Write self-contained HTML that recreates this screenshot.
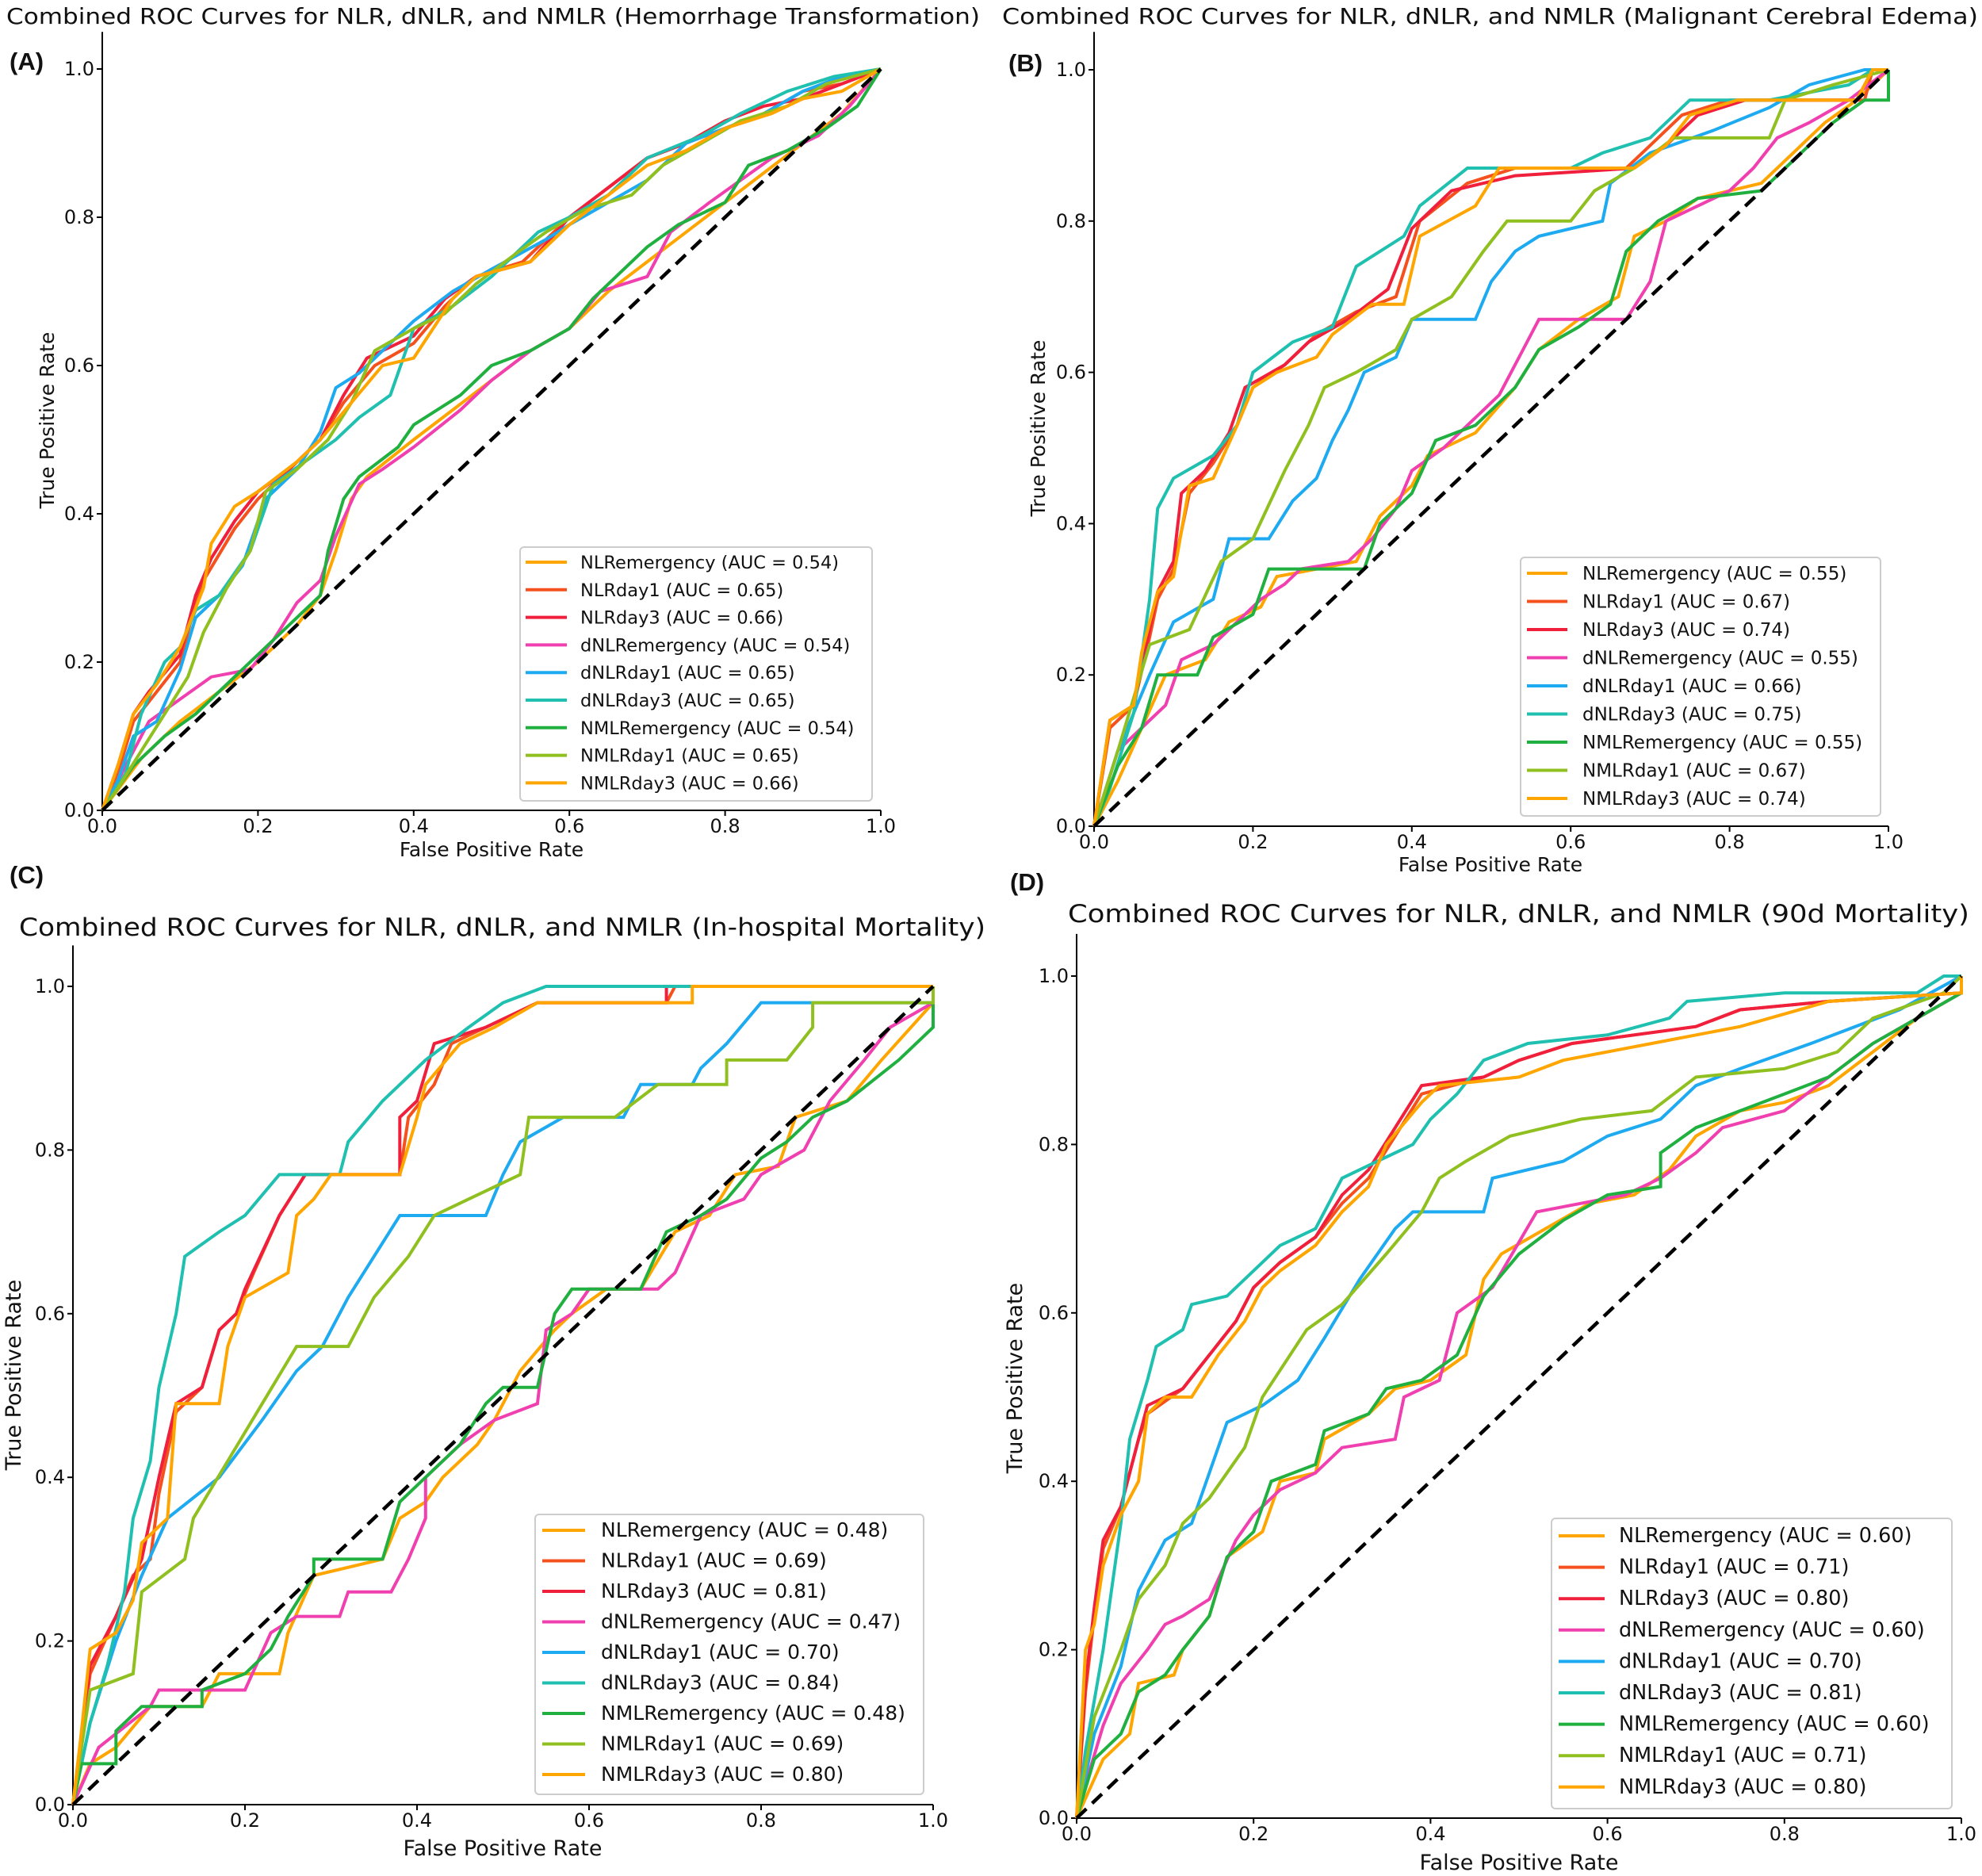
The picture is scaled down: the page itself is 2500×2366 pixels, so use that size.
<!DOCTYPE html>
<html><head><meta charset="utf-8"><style>
html,body{margin:0;padding:0;background:#fff;}
svg{display:block;font-family:"DejaVu Sans","Liberation Sans",sans-serif;}
</style></head><body>
<svg id="fig" width="2500" height="2366" viewBox="0 0 2500 2366" xmlns="http://www.w3.org/2000/svg"></svg>
<script>
const ticks = [0, 0.2, 0.4, 0.6, 0.8, 1.0];
const tickLabels = ["0.0","0.2","0.4","0.6","0.8","1.0"];
const seriesNames = ["NLRemergency","NLRday1","NLRday3","dNLRemergency","dNLRday1","dNLRday3","NMLRemergency","NMLRday1","NMLRday3"];
const seriesColors = ["#FFA500","#F4511E","#F0203C","#F040B0","#1EAAF0","#20C0B0","#20B040","#90C020","#FFA500"];
const aucA = ["0.54","0.65","0.66","0.54","0.65","0.65","0.54","0.65","0.66"];
const aucB = ["0.55","0.67","0.74","0.55","0.66","0.75","0.55","0.67","0.74"];
const aucC = ["0.48","0.69","0.81","0.47","0.70","0.84","0.48","0.69","0.80"];
const aucD = ["0.60","0.71","0.80","0.60","0.70","0.81","0.60","0.71","0.80"];

// Panel A
const A_NLRem = [[0,0],[0.05,0.07],[0.1,0.12],[0.15,0.16],[0.2,0.2],[0.25,0.25],[0.28,0.29],[0.3,0.35],[0.32,0.42],[0.34,0.45],[0.4,0.5],[0.45,0.54],[0.5,0.58],[0.55,0.62],[0.6,0.65],[0.65,0.7],[0.7,0.74],[0.75,0.78],[0.8,0.82],[0.85,0.86],[0.9,0.9],[0.95,0.94],[1,1]];
const A_NLRd1 = [[0,0],[0.02,0.05],[0.04,0.12],[0.07,0.16],[0.1,0.2],[0.12,0.28],[0.13,0.31],[0.17,0.38],[0.2,0.42],[0.24,0.46],[0.28,0.5],[0.31,0.55],[0.35,0.6],[0.4,0.63],[0.44,0.68],[0.48,0.72],[0.54,0.74],[0.6,0.8],[0.65,0.84],[0.7,0.88],[0.75,0.9],[0.8,0.92],[0.85,0.94],[0.9,0.97],[0.95,0.98],[1,1]];
const A_NLRd3 = [[0,0],[0.02,0.06],[0.04,0.13],[0.06,0.16],[0.1,0.21],[0.12,0.29],[0.14,0.34],[0.17,0.39],[0.2,0.43],[0.24,0.46],[0.28,0.5],[0.31,0.56],[0.34,0.61],[0.4,0.64],[0.44,0.69],[0.48,0.72],[0.55,0.74],[0.6,0.8],[0.65,0.84],[0.7,0.88],[0.75,0.9],[0.8,0.93],[0.85,0.95],[0.9,0.96],[0.95,0.98],[1,1]];
const A_dNLRem = [[0,0],[0.03,0.06],[0.06,0.12],[0.1,0.15],[0.14,0.18],[0.19,0.19],[0.22,0.23],[0.25,0.28],[0.28,0.31],[0.3,0.37],[0.33,0.44],[0.36,0.46],[0.4,0.49],[0.46,0.54],[0.5,0.58],[0.55,0.62],[0.6,0.65],[0.64,0.7],[0.7,0.72],[0.73,0.78],[0.78,0.82],[0.82,0.85],[0.86,0.88],[0.92,0.91],[0.96,0.95],[1,1]];
const A_dNLRd1 = [[0,0],[0.02,0.04],[0.04,0.1],[0.07,0.12],[0.1,0.19],[0.12,0.26],[0.15,0.29],[0.18,0.33],[0.21,0.42],[0.25,0.46],[0.28,0.51],[0.3,0.57],[0.33,0.59],[0.36,0.62],[0.4,0.66],[0.45,0.7],[0.5,0.73],[0.57,0.77],[0.6,0.79],[0.65,0.82],[0.7,0.85],[0.75,0.9],[0.8,0.92],[0.85,0.94],[0.9,0.97],[0.95,0.99],[1,1]];
const A_dNLRd3 = [[0,0],[0.03,0.05],[0.05,0.13],[0.08,0.2],[0.1,0.22],[0.12,0.27],[0.15,0.29],[0.19,0.35],[0.22,0.44],[0.26,0.47],[0.3,0.5],[0.33,0.53],[0.37,0.56],[0.4,0.65],[0.45,0.68],[0.5,0.72],[0.56,0.78],[0.6,0.8],[0.65,0.83],[0.7,0.88],[0.77,0.91],[0.82,0.94],[0.88,0.97],[0.94,0.99],[1,1]];
const A_NMLRem = [[0,0],[0.04,0.06],[0.08,0.1],[0.12,0.13],[0.16,0.17],[0.2,0.21],[0.25,0.26],[0.28,0.29],[0.29,0.35],[0.31,0.42],[0.33,0.45],[0.38,0.49],[0.4,0.52],[0.46,0.56],[0.5,0.6],[0.55,0.62],[0.6,0.65],[0.63,0.69],[0.66,0.72],[0.7,0.76],[0.74,0.79],[0.8,0.82],[0.83,0.87],[0.88,0.89],[0.93,0.92],[0.97,0.95],[1,1]];
const A_NMLRd1 = [[0,0],[0.02,0.03],[0.05,0.08],[0.08,0.13],[0.11,0.18],[0.13,0.24],[0.16,0.3],[0.19,0.35],[0.21,0.43],[0.25,0.46],[0.29,0.5],[0.32,0.55],[0.35,0.62],[0.4,0.65],[0.44,0.67],[0.48,0.71],[0.53,0.75],[0.57,0.78],[0.62,0.81],[0.68,0.83],[0.72,0.87],[0.77,0.9],[0.82,0.93],[0.88,0.95],[0.93,0.98],[1,1]];
const A_NMLRd3 = [[0,0],[0.02,0.06],[0.04,0.13],[0.07,0.17],[0.1,0.22],[0.13,0.3],[0.14,0.36],[0.17,0.41],[0.2,0.43],[0.25,0.47],[0.28,0.5],[0.32,0.55],[0.36,0.6],[0.4,0.61],[0.45,0.69],[0.48,0.72],[0.55,0.74],[0.6,0.79],[0.65,0.83],[0.7,0.87],[0.75,0.89],[0.8,0.92],[0.86,0.94],[0.9,0.96],[0.95,0.97],[1,1]];

// Panel B
const B_NLRem = [[0,0],[0.03,0.06],[0.06,0.13],[0.09,0.2],[0.14,0.22],[0.17,0.27],[0.21,0.29],[0.23,0.33],[0.33,0.35],[0.36,0.41],[0.4,0.45],[0.42,0.49],[0.48,0.52],[0.53,0.58],[0.56,0.63],[0.61,0.67],[0.66,0.7],[0.68,0.78],[0.72,0.8],[0.76,0.83],[0.84,0.85],[0.88,0.89],[0.92,0.93],[0.96,0.96],[1,1]];
const B_NLRd1 = [[0,0],[0.02,0.13],[0.05,0.16],[0.07,0.25],[0.08,0.3],[0.1,0.34],[0.12,0.44],[0.15,0.48],[0.18,0.53],[0.2,0.58],[0.24,0.61],[0.28,0.65],[0.33,0.68],[0.38,0.7],[0.41,0.8],[0.47,0.85],[0.53,0.87],[0.67,0.87],[0.7,0.9],[0.74,0.94],[0.8,0.96],[0.97,0.96],[0.98,1],[1,1]];
const B_NLRd3 = [[0,0],[0.02,0.14],[0.05,0.16],[0.07,0.26],[0.08,0.31],[0.1,0.35],[0.11,0.44],[0.14,0.47],[0.17,0.52],[0.19,0.58],[0.24,0.61],[0.27,0.64],[0.32,0.67],[0.37,0.71],[0.4,0.79],[0.45,0.84],[0.53,0.86],[0.68,0.87],[0.72,0.9],[0.76,0.94],[0.82,0.96],[0.96,0.96],[0.98,1],[1,1]];
const B_dNLRem = [[0,0],[0.03,0.1],[0.06,0.13],[0.09,0.16],[0.11,0.22],[0.15,0.24],[0.18,0.27],[0.21,0.3],[0.24,0.32],[0.26,0.34],[0.32,0.35],[0.35,0.38],[0.38,0.42],[0.4,0.47],[0.44,0.5],[0.48,0.54],[0.51,0.57],[0.54,0.63],[0.56,0.67],[0.67,0.67],[0.7,0.72],[0.72,0.8],[0.8,0.84],[0.83,0.87],[0.86,0.91],[0.9,0.93],[0.95,0.96],[1,1]];
const B_dNLRd1 = [[0,0],[0.03,0.1],[0.07,0.2],[0.1,0.27],[0.15,0.3],[0.17,0.38],[0.22,0.38],[0.25,0.43],[0.28,0.46],[0.3,0.51],[0.32,0.55],[0.34,0.6],[0.38,0.62],[0.4,0.67],[0.48,0.67],[0.5,0.72],[0.53,0.76],[0.56,0.78],[0.64,0.8],[0.65,0.85],[0.7,0.89],[0.78,0.92],[0.85,0.95],[0.9,0.98],[0.97,1],[1,1]];
const B_dNLRd3 = [[0,0],[0.02,0.05],[0.05,0.15],[0.07,0.3],[0.08,0.42],[0.1,0.46],[0.15,0.49],[0.18,0.53],[0.2,0.6],[0.25,0.64],[0.3,0.66],[0.33,0.74],[0.39,0.78],[0.41,0.82],[0.47,0.87],[0.6,0.87],[0.64,0.89],[0.7,0.91],[0.75,0.96],[0.85,0.96],[0.95,0.98],[0.98,1],[1,1]];
const B_NMLRem = [[0,0],[0.03,0.08],[0.06,0.13],[0.08,0.2],[0.13,0.2],[0.15,0.25],[0.2,0.28],[0.22,0.34],[0.34,0.34],[0.36,0.4],[0.4,0.44],[0.43,0.51],[0.48,0.53],[0.53,0.58],[0.56,0.63],[0.61,0.66],[0.65,0.69],[0.67,0.76],[0.71,0.8],[0.76,0.83],[0.84,0.84],[0.88,0.88],[0.93,0.93],[0.97,0.96],[1,0.96],[1,1]];
const B_NMLRd1 = [[0,0],[0.03,0.1],[0.07,0.24],[0.12,0.26],[0.16,0.35],[0.2,0.38],[0.24,0.47],[0.27,0.53],[0.29,0.58],[0.33,0.6],[0.38,0.63],[0.4,0.67],[0.45,0.7],[0.49,0.76],[0.52,0.8],[0.6,0.8],[0.63,0.84],[0.68,0.87],[0.73,0.91],[0.85,0.91],[0.87,0.96],[0.93,0.98],[1,1]];
const B_NMLRd3 = [[0,0],[0.02,0.14],[0.05,0.16],[0.06,0.23],[0.08,0.31],[0.1,0.33],[0.12,0.45],[0.15,0.46],[0.18,0.53],[0.2,0.58],[0.23,0.6],[0.28,0.62],[0.3,0.65],[0.35,0.69],[0.39,0.69],[0.41,0.78],[0.48,0.82],[0.51,0.87],[0.68,0.87],[0.72,0.9],[0.75,0.94],[0.81,0.96],[0.96,0.96],[0.98,1],[1,1]];

// Panel C
const C_NLRem = [[0,0],[0.02,0.05],[0.05,0.07],[0.09,0.12],[0.15,0.12],[0.17,0.16],[0.24,0.16],[0.25,0.21],[0.28,0.28],[0.36,0.3],[0.38,0.35],[0.41,0.37],[0.43,0.4],[0.47,0.44],[0.49,0.47],[0.52,0.53],[0.56,0.58],[0.58,0.6],[0.62,0.63],[0.66,0.63],[0.7,0.7],[0.74,0.72],[0.77,0.77],[0.82,0.78],[0.84,0.84],[0.9,0.86],[0.94,0.91],[1,0.98],[1,1]];
const C_NLRd1 = [[0,0],[0.02,0.16],[0.05,0.23],[0.07,0.28],[0.09,0.3],[0.1,0.38],[0.12,0.48],[0.15,0.51],[0.17,0.58],[0.19,0.6],[0.21,0.65],[0.24,0.72],[0.27,0.77],[0.38,0.77],[0.39,0.84],[0.42,0.88],[0.44,0.93],[0.48,0.95],[0.54,0.98],[0.69,0.98],[0.7,1],[1,1]];
const C_NLRd3 = [[0,0],[0.02,0.17],[0.05,0.23],[0.08,0.3],[0.1,0.4],[0.12,0.49],[0.15,0.51],[0.17,0.58],[0.19,0.6],[0.2,0.63],[0.24,0.72],[0.27,0.77],[0.38,0.77],[0.38,0.84],[0.4,0.86],[0.42,0.93],[0.48,0.95],[0.54,0.98],[0.69,0.98],[0.69,1],[1,1]];
const C_dNLRem = [[0,0],[0.03,0.07],[0.09,0.12],[0.1,0.14],[0.2,0.14],[0.23,0.21],[0.26,0.23],[0.31,0.23],[0.32,0.26],[0.37,0.26],[0.39,0.3],[0.41,0.35],[0.41,0.4],[0.45,0.44],[0.49,0.47],[0.54,0.49],[0.55,0.58],[0.58,0.6],[0.6,0.63],[0.68,0.63],[0.7,0.65],[0.73,0.72],[0.78,0.74],[0.8,0.77],[0.85,0.8],[0.88,0.86],[0.92,0.91],[0.95,0.95],[1,0.98],[1,1]];
const C_dNLRd1 = [[0,0],[0.02,0.1],[0.05,0.2],[0.08,0.28],[0.11,0.35],[0.17,0.4],[0.22,0.47],[0.26,0.53],[0.29,0.56],[0.32,0.62],[0.35,0.67],[0.38,0.72],[0.48,0.72],[0.5,0.77],[0.52,0.81],[0.57,0.84],[0.64,0.84],[0.66,0.88],[0.72,0.88],[0.73,0.9],[0.76,0.93],[0.8,0.98],[0.87,0.98],[1,0.98],[1,1]];
const C_dNLRd3 = [[0,0],[0.02,0.1],[0.04,0.17],[0.06,0.26],[0.07,0.35],[0.09,0.42],[0.1,0.51],[0.12,0.6],[0.13,0.67],[0.17,0.7],[0.2,0.72],[0.24,0.77],[0.31,0.77],[0.32,0.81],[0.36,0.86],[0.41,0.91],[0.46,0.95],[0.5,0.98],[0.55,1],[1,1]];
const C_NMLRem = [[0,0],[0.01,0.05],[0.05,0.05],[0.05,0.09],[0.08,0.12],[0.15,0.12],[0.15,0.14],[0.2,0.16],[0.23,0.19],[0.25,0.23],[0.28,0.28],[0.28,0.3],[0.36,0.3],[0.38,0.37],[0.41,0.4],[0.45,0.44],[0.48,0.49],[0.5,0.51],[0.54,0.51],[0.56,0.6],[0.58,0.63],[0.66,0.63],[0.69,0.7],[0.73,0.72],[0.76,0.74],[0.8,0.79],[0.83,0.81],[0.86,0.84],[0.9,0.86],[0.96,0.91],[1,0.95],[1,1]];
const C_NMLRd1 = [[0,0],[0.02,0.14],[0.07,0.16],[0.08,0.26],[0.13,0.3],[0.14,0.35],[0.18,0.42],[0.22,0.49],[0.26,0.56],[0.32,0.56],[0.35,0.62],[0.39,0.67],[0.42,0.72],[0.46,0.74],[0.52,0.77],[0.53,0.84],[0.63,0.84],[0.68,0.88],[0.76,0.88],[0.76,0.91],[0.83,0.91],[0.86,0.95],[0.86,0.98],[1,0.98],[1,1]];
const C_NMLRd3 = [[0,0],[0.01,0.09],[0.02,0.19],[0.05,0.21],[0.07,0.25],[0.08,0.32],[0.11,0.35],[0.12,0.49],[0.17,0.49],[0.18,0.56],[0.2,0.62],[0.25,0.65],[0.26,0.72],[0.28,0.74],[0.3,0.77],[0.38,0.77],[0.4,0.84],[0.41,0.88],[0.45,0.93],[0.49,0.95],[0.54,0.98],[0.72,0.98],[0.72,1],[1,1]];

// Panel D
const D_NLRem = [[0,0],[0.03,0.07],[0.06,0.1],[0.07,0.16],[0.11,0.17],[0.12,0.2],[0.15,0.24],[0.17,0.31],[0.21,0.34],[0.23,0.4],[0.27,0.41],[0.28,0.45],[0.33,0.48],[0.36,0.51],[0.4,0.52],[0.44,0.55],[0.46,0.64],[0.48,0.67],[0.53,0.7],[0.58,0.73],[0.63,0.74],[0.67,0.77],[0.7,0.81],[0.75,0.84],[0.8,0.85],[0.85,0.87],[0.9,0.91],[0.95,0.95],[1,0.98],[1,1]];
const D_NLRd1 = [[0,0],[0.01,0.15],[0.02,0.24],[0.03,0.32],[0.05,0.37],[0.07,0.45],[0.08,0.48],[0.12,0.51],[0.15,0.55],[0.18,0.59],[0.2,0.63],[0.23,0.66],[0.27,0.69],[0.3,0.73],[0.33,0.76],[0.36,0.81],[0.39,0.86],[0.46,0.88],[0.5,0.9],[0.56,0.92],[0.63,0.93],[0.7,0.94],[0.75,0.96],[0.85,0.97],[1,0.98],[1,1]];
const D_NLRd3 = [[0,0],[0.01,0.16],[0.02,0.25],[0.03,0.33],[0.05,0.37],[0.07,0.45],[0.08,0.49],[0.12,0.51],[0.15,0.55],[0.18,0.59],[0.2,0.63],[0.23,0.66],[0.27,0.69],[0.3,0.74],[0.33,0.77],[0.36,0.82],[0.39,0.87],[0.46,0.88],[0.5,0.9],[0.56,0.92],[0.63,0.93],[0.7,0.94],[0.75,0.96],[0.85,0.97],[1,0.98],[1,1]];
const D_dNLRem = [[0,0],[0.01,0.04],[0.03,0.11],[0.05,0.16],[0.08,0.2],[0.1,0.23],[0.12,0.24],[0.15,0.26],[0.18,0.33],[0.2,0.36],[0.23,0.39],[0.27,0.41],[0.3,0.44],[0.36,0.45],[0.37,0.5],[0.41,0.52],[0.43,0.6],[0.47,0.63],[0.52,0.72],[0.57,0.73],[0.62,0.74],[0.66,0.76],[0.7,0.79],[0.73,0.82],[0.8,0.84],[0.85,0.88],[0.9,0.92],[0.95,0.95],[1,0.98],[1,1]];
const D_dNLRd1 = [[0,0],[0.02,0.1],[0.05,0.18],[0.07,0.27],[0.1,0.33],[0.13,0.35],[0.15,0.41],[0.17,0.47],[0.21,0.49],[0.25,0.52],[0.28,0.57],[0.32,0.64],[0.36,0.7],[0.38,0.72],[0.46,0.72],[0.47,0.76],[0.55,0.78],[0.6,0.81],[0.66,0.83],[0.7,0.87],[0.75,0.89],[0.83,0.92],[0.93,0.96],[1,1]];
const D_dNLRd3 = [[0,0],[0.01,0.08],[0.03,0.2],[0.05,0.35],[0.06,0.45],[0.08,0.52],[0.09,0.56],[0.12,0.58],[0.13,0.61],[0.17,0.62],[0.2,0.65],[0.23,0.68],[0.27,0.7],[0.3,0.76],[0.34,0.78],[0.38,0.8],[0.4,0.83],[0.43,0.86],[0.46,0.9],[0.51,0.92],[0.6,0.93],[0.67,0.95],[0.69,0.97],[0.8,0.98],[0.95,0.98],[0.98,1],[1,1]];
const D_NMLRem = [[0,0],[0.02,0.07],[0.05,0.1],[0.07,0.15],[0.1,0.17],[0.12,0.2],[0.15,0.24],[0.17,0.31],[0.2,0.34],[0.22,0.4],[0.27,0.42],[0.28,0.46],[0.33,0.48],[0.35,0.51],[0.39,0.52],[0.43,0.55],[0.46,0.62],[0.5,0.67],[0.55,0.71],[0.6,0.74],[0.66,0.75],[0.66,0.79],[0.7,0.82],[0.75,0.84],[0.8,0.86],[0.85,0.88],[0.9,0.92],[0.95,0.95],[1,0.98],[1,1]];
const D_NMLRd1 = [[0,0],[0.02,0.12],[0.05,0.2],[0.07,0.26],[0.1,0.3],[0.12,0.35],[0.15,0.38],[0.19,0.44],[0.21,0.5],[0.26,0.58],[0.3,0.61],[0.35,0.67],[0.39,0.72],[0.41,0.76],[0.44,0.78],[0.49,0.81],[0.57,0.83],[0.65,0.84],[0.7,0.88],[0.8,0.89],[0.86,0.91],[0.9,0.95],[0.98,0.98],[1,1]];
const D_NMLRd3 = [[0,0],[0.01,0.2],[0.02,0.23],[0.03,0.3],[0.05,0.36],[0.07,0.4],[0.08,0.48],[0.1,0.5],[0.13,0.5],[0.16,0.55],[0.19,0.59],[0.21,0.63],[0.23,0.65],[0.27,0.68],[0.3,0.72],[0.33,0.75],[0.35,0.8],[0.39,0.85],[0.41,0.87],[0.5,0.88],[0.55,0.9],[0.65,0.92],[0.75,0.94],[0.85,0.97],[1,0.98],[1,1]];

const panels = [
  {id:"a", label:"(A)", lx:12, ly:88, title:"Combined ROC Curves for NLR, dNLR, and NMLR (Hemorrhage Transformation)", tx:8, ty:30, tw:1228, tfs:28,
   x0:129, x1:1111, y0:1022, y1:87, xlx:620, xly:1080, ylx:68, yly:530, lfs:25, series:[A_NLRem,A_NLRd1,A_NLRd3,A_dNLRem,A_dNLRd1,A_dNLRd3,A_NMLRem,A_NMLRd1,A_NMLRd3], auc:aucA,
   leg:{x:656,y:690,w:444,h:320,row0:709,dy:34.8,sx:663,ex:715,tx:732,fs:22.5}},
  {id:"b", label:"(B)", lx:1272, ly:90, title:"Combined ROC Curves for NLR, dNLR, and NMLR (Malignant Cerebral Edema)", tx:1264, ty:30, tw:1231, tfs:28,
   x0:1380, x1:2382, y0:1042, y1:88, xlx:1880, xly:1099, ylx:1318, yly:540, lfs:25, series:[B_NLRem,B_NLRd1,B_NLRd3,B_dNLRem,B_dNLRd1,B_dNLRd3,B_NMLRem,B_NMLRd1,B_NMLRd3], auc:aucB,
   leg:{x:1918,y:703,w:454,h:326,row0:723,dy:35.5,sx:1926,ex:1977,tx:1996,fs:23}},
  {id:"c", label:"(C)", lx:12, ly:1114, title:"Combined ROC Curves for NLR, dNLR, and NMLR (In-hospital Mortality)", tx:24, ty:1180, tw:1219, tfs:31,
   x0:92, x1:1177, y0:2276, y1:1244, xlx:634, xly:2340, ylx:26, yly:1734, lfs:27, series:[C_NLRem,C_NLRd1,C_NLRd3,C_dNLRem,C_dNLRd1,C_dNLRd3,C_NMLRem,C_NMLRd1,C_NMLRd3], auc:aucC,
   leg:{x:675,y:1910,w:490,h:353,row0:1930,dy:38.5,sx:684,ex:738,tx:758,fs:25}},
  {id:"d", label:"(D)", lx:1274, ly:1123, title:"Combined ROC Curves for NLR, dNLR, and NMLR (90d Mortality)", tx:1347, ty:1163, tw:1137, tfs:31,
   x0:1358, x1:2474, y0:2293, y1:1231, xlx:1916, xly:2358, ylx:1289, yly:1738, lfs:27, series:[D_NLRem,D_NLRd1,D_NLRd3,D_dNLRem,D_dNLRd1,D_dNLRd3,D_NMLRem,D_NMLRd1,D_NMLRd3], auc:aucD,
   leg:{x:1957,y:1915,w:505,h:366,row0:1937,dy:39.6,sx:1966,ex:2024,tx:2042,fs:25.5}}
];

const NS = "http://www.w3.org/2000/svg";
const svg = document.getElementById("fig");
function mk(tag, attrs, parent){
  const e = document.createElementNS(NS, tag);
  for (const k in attrs) e.setAttribute(k, attrs[k]);
  (parent||svg).appendChild(e);
  return e;
}
panels.forEach(p => {
  const g = mk("g", {});
  
  
  const sx = v => p.x0 + v*(p.x1-p.x0);
  const sy = v => p.y0 - v*(p.y0-p.y1);

  const t = mk("text", {x:p.tx, y:p.ty, "font-size":p.tfs, fill:"#111", textLength:p.tw, lengthAdjust:"spacingAndGlyphs"}, g);
  t.textContent = p.title;
  
  

  const pl = mk("text", {x:p.lx, y:p.ly, "font-size":31, "font-weight":"bold", fill:"#111", "font-family":"Liberation Sans, sans-serif"}, g);
  pl.textContent = p.label;
  
  

  // spines
  const axl = mk("line", {x1:p.x0, y1:p.y0, x2:p.x0, y2:p.y1-0.05*(p.y0-p.y1), stroke:"#000", "stroke-width":2}, g);
  
  
  const axb = mk("line", {x1:p.x0, y1:p.y0, x2:p.x1, y2:p.y0, stroke:"#000", "stroke-width":2}, g);
  
  

  ticks.forEach((v,i) => {
    const tx = mk("line", {x1:sx(v), y1:p.y0, x2:sx(v), y2:p.y0+7, stroke:"#000", "stroke-width":2}, g);
    
    
    const xl = mk("text", {x:sx(v), y:p.y0+28, "font-size":24, "text-anchor":"middle", fill:"#111"}, g);
    xl.textContent = tickLabels[i];
    
    
    const ty = mk("line", {x1:p.x0-7, y1:sy(v), x2:p.x0, y2:sy(v), stroke:"#000", "stroke-width":2}, g);
    
    
    const yl = mk("text", {x:p.x0-10, y:sy(v)+8, "font-size":24, "text-anchor":"end", fill:"#111"}, g);
    yl.textContent = tickLabels[i];
    
    
  });

  const xt = mk("text", {x:p.xlx, y:p.xly, "font-size":p.lfs, "text-anchor":"middle", fill:"#111"}, g);
  xt.textContent = "False Positive Rate";
  
  
  const yt = mk("text", {x:0, y:0, "font-size":p.lfs, "text-anchor":"middle", fill:"#111", transform:`translate(${p.ylx},${p.yly}) rotate(-90)`}, g);
  yt.textContent = "True Positive Rate";
  
  

  p.series.forEach((pts, i) => {
    const d = pts.map((q,k) => (k?"L":"M") + sx(q[0]).toFixed(1) + "," + sy(q[1]).toFixed(1)).join(" ");
    const path = mk("path", {d:d, fill:"none", stroke:seriesColors[i], "stroke-width":4, "stroke-linejoin":"miter"}, g);
    
    
  });

  const diag = mk("line", {x1:sx(0), y1:sy(0), x2:sx(1), y2:sy(1), stroke:"#000", "stroke-width":4.5, "stroke-dasharray":"17 10"}, g);
  
  

  const L = p.leg;
  const lg = mk("g", {}, g);
  
  
  mk("rect", {x:L.x, y:L.y, width:L.w, height:L.h, rx:5, fill:"#fff", "fill-opacity":0.85, stroke:"#ccc", "stroke-width":2}, lg);
  seriesNames.forEach((n,i) => {
    const yy = L.row0 + i*L.dy;
    const e = mk("g", {}, lg);
    
    
    mk("line", {x1:L.sx, y1:yy, x2:L.ex, y2:yy, stroke:seriesColors[i], "stroke-width":4}, e);
    const tt = mk("text", {x:L.tx, y:yy+8, "font-size":L.fs, fill:"#111"}, e);
    tt.textContent = `${n} (AUC = ${p.auc[i]})`;
  });
});
</script>
</body></html>
